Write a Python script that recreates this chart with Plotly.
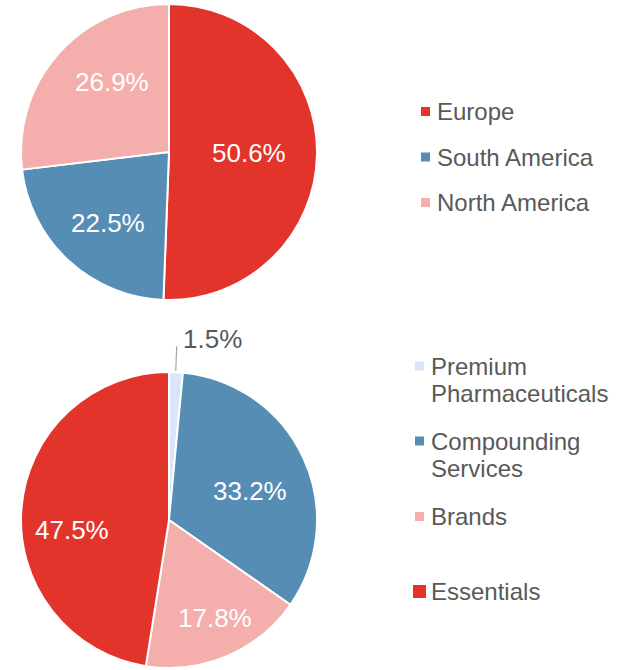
import math
import plotly.graph_objects as go

W, H = 625, 670

# ---- data ----
region_labels = ["Europe", "South America", "North America"]
region_values = [50.6, 22.5, 26.9]
region_colors = ["#E3342B", "#558DB5", "#F4AEAB"]

segment_labels = ["Premium Pharmaceuticals", "Compounding Services", "Brands", "Essentials"]
segment_values = [1.5, 33.2, 17.8, 47.5]
segment_colors = ["#DAE6F7", "#558DB5", "#F4AEAB", "#E3342B"]

FONT = "Liberation Sans, Arial, sans-serif"
GREY = "#595959"


def px(x):
    return x / W


def py(y):
    return 1 - y / H


# pie geometry (pixels)
TOP_BOX = (20, 4, 318, 300)      # x0, y0, x1, y1
BOT_BOX = (20, 372, 318, 668)

# label placement style: (radius fraction, angle nudge in degrees); None = outside label
TOP_LABEL_POS = [(0.534, 0.0), (0.63, -1.8), (0.61, 9.2)]
BOT_LABEL_POS = [None, (0.58, 5.4), (0.726, -2.4), (0.652, -10.2)]

fig = go.Figure()

fig.add_trace(go.Pie(
    labels=region_labels, values=region_values, sort=False,
    direction="clockwise", rotation=0,
    marker=dict(colors=region_colors, line=dict(color="white", width=2)),
    textinfo="none",
    domain=dict(x=[px(TOP_BOX[0]), px(TOP_BOX[2])], y=[py(TOP_BOX[3]), py(TOP_BOX[1])]),
    showlegend=False, hoverinfo="label+value",
))

fig.add_trace(go.Pie(
    labels=segment_labels, values=segment_values, sort=False,
    direction="clockwise", rotation=0,
    marker=dict(colors=segment_colors, line=dict(color="white", width=2)),
    textinfo="none",
    domain=dict(x=[px(BOT_BOX[0]), px(BOT_BOX[2])], y=[py(BOT_BOX[3]), py(BOT_BOX[1])]),
    showlegend=False, hoverinfo="label+value",
))

annotations = []
shapes = []


def add_slice_labels(values, box, placements):
    cx = (box[0] + box[2]) / 2
    cy = (box[1] + box[3]) / 2
    r = (box[2] - box[0]) / 2
    total = sum(values)
    start = 0.0
    for v, pl in zip(values, placements):
        mid_deg = (start + v / 2) / total * 360
        start += v
        if pl is None:
            # small slice: outside label with leader line
            mid = math.radians(mid_deg)
            sx = cx + r * math.sin(mid)
            sy = cy - r * math.cos(mid)
            shapes.append(dict(type="line", xref="paper", yref="paper",
                               x0=px(sx - 0.3), y0=py(sy), x1=px(sx + 0.7), y1=py(sy - 25),
                               line=dict(color="#A6A6A6", width=1.2)))
            annotations.append(dict(text=f"{v:.1f}%", x=px(sx + 5), y=py(sy - 32),
                                    xref="paper", yref="paper", xanchor="left", yanchor="middle",
                                    showarrow=False, font=dict(family=FONT, size=26, color=GREY)))
        else:
            f, nudge = pl
            a = math.radians(mid_deg + nudge)
            lx = cx + f * r * math.sin(a)
            ly = cy - f * r * math.cos(a)
            annotations.append(dict(text=f"{v:.1f}%", x=px(lx), y=py(ly),
                                    xref="paper", yref="paper", xanchor="center", yanchor="middle",
                                    showarrow=False, font=dict(family=FONT, size=26, color="white")))


add_slice_labels(region_values, TOP_BOX, TOP_LABEL_POS)
add_slice_labels(segment_values, BOT_BOX, BOT_LABEL_POS)


def add_legend(labels, colors, rows, sq_x, sq_sizes, text_x, line_gap=27):
    for lab, col, yc, s in zip(labels, colors, rows, sq_sizes):
        shapes.append(dict(type="rect", xref="paper", yref="paper",
                           x0=px(sq_x - s / 2), x1=px(sq_x + s / 2),
                           y0=py(yc + s / 2), y1=py(yc - s / 2),
                           fillcolor=col, line=dict(width=0)))
        words = lab.split(" ")
        if len(lab) > 16 and len(words) > 1:
            lines = [" ".join(words[:-1]), words[-1]]
        else:
            lines = [lab]
        for i, ln in enumerate(lines):
            annotations.append(dict(text=ln, x=px(text_x), y=py(yc + i * line_gap),
                                    xref="paper", yref="paper", xanchor="left", yanchor="middle",
                                    showarrow=False, font=dict(family=FONT, size=24, color=GREY)))


add_legend(region_labels, region_colors, [111.5, 157, 202.5], 425.5, [9, 9, 9], 435)
add_legend(segment_labels, segment_colors, [366, 441, 516.5, 591.5], 419.5, [9, 9, 9, 13], 429)

fig.update_layout(
    width=W, height=H,
    margin=dict(l=0, r=0, t=0, b=0),
    paper_bgcolor="white", plot_bgcolor="white",
    annotations=annotations, shapes=shapes,
    font=dict(family=FONT, color=GREY),
)

fig.write_html("out.html", config={"displayModeBar": False},
               post_script="document.body.style.margin='0px';")
